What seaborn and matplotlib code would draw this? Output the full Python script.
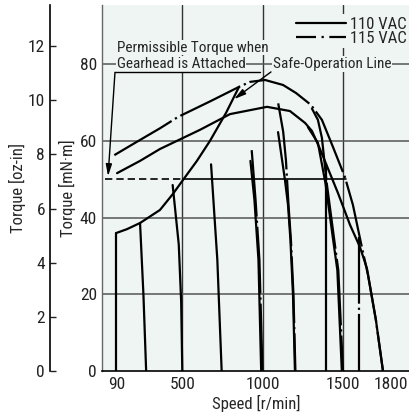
import matplotlib
matplotlib.use('Agg')
import matplotlib.pyplot as plt
from matplotlib import font_manager as fm
from matplotlib.lines import Line2D
import seaborn as sns

# speed [r/min] and torque [mN·m]
max115_speed = [77, 206, 361, 475, 672, 853, 921, 1015, 1127, 1208, 1301, 1369, 1438, 1512, 1562, 1612, 1656, 1705, 1749]
max115_torque = [56.3, 59.5, 63.3, 66.3, 70.3, 74.1, 75.4, 75.9, 74.6, 72.5, 69.4, 65.5, 58.4, 50.6, 43.3, 33.4, 25.0, 13.3, 0]
max110_speed = [94, 237, 361, 610, 797, 1027, 1170, 1264, 1307, 1357, 1469, 1544, 1606, 1649, 1705, 1749]
max110_torque = [51.6, 54.8, 57.9, 62.9, 67.0, 68.9, 67.8, 64.7, 62.6, 57.9, 46.4, 38.1, 32.3, 26.8, 13.3, 0]
safe_speed = [90, 156, 237, 361, 442, 504, 591, 672, 772, 853]
safe_torque = [36.0, 37.0, 38.6, 42.0, 46.2, 49.8, 54.8, 60.0, 67.3, 74.1]

# speed-control lines (solid = 110 VAC, dash-dot = 115 VAC)
c90_speed, c90_torque = [90, 90], [36.0, 0]
c275_speed, c275_torque = [237, 258, 275], [38.6, 20, 0]
c500_speed, c500_torque = [440, 478, 493, 500], [48.5, 33, 18, 0]
c745_speed, c745_torque = [679, 718, 745], [53.9, 29, 0]
c1000a_speed, c1000a_torque = [924, 949, 974, 991], [54.8, 44.6, 29.0, 0]
c1000b_speed, c1000b_torque = [932, 956, 980, 999], [57.6, 44.6, 29.0, 0]
c1200a_speed, c1200a_torque = [1096, 1139, 1158, 1173, 1189, 1201], [62.3, 49.8, 43.3, 34.2, 19.8, 0]
c1200b_speed, c1200b_torque = [1097, 1128, 1145, 1161, 1176, 1192, 1204], [69.8, 62.4, 55.0, 43.3, 34.2, 19.8, 0]
c1500a_speed, c1500a_torque = [1282, 1344, 1391, 1433, 1465, 1493], [63.6, 59.5, 49.0, 36.0, 26.3, 0]
c1500b_speed, c1500b_torque = [1305, 1344, 1369, 1399, 1440, 1471, 1500], [68.6, 65.5, 60.8, 49.0, 36.0, 26.3, 0]
v110_speed, v110_torque = [1394, 1394], [54.0, 0]
v115_speed, v115_torque = [1600, 1600], [35.0, 0]

gear_dash_speed = [20, 504]
gear_solid_speed = [504, 1520]
gear_torque = 50

grid_speed = [500, 1000, 1500]
grid_torque = [20, 40, 60, 80]
x_ticks = [90, 500, 1000, 1500, 1800]
y_ticks = [0, 20, 40, 60, 80]
oz_ticks = [0, 2, 4, 6, 8, 10, 12]
legend_labels = ['110 VAC', '115 VAC']

MNM_TO_OZIN = 0.141612
BG = '#eff5f3'
SOLID = '-'
DASHDOT = (0, (30, 1.8, 1, 1.8))

sns.set_style('white')

# the original uses a condensed grotesque; take a condensed face if one is installed
FONT, FS, NOTE_FS, STRETCH = 'Liberation Sans', 10.5, 10.5, 'normal'
preferred = ['Liberation Sans Narrow', 'Arial Narrow', 'Roboto Condensed', 'Noto Sans',
             'Open Sans', 'Roboto', 'Lato', 'DejaVu Sans']
condensed = {}
for f in fm.fontManager.ttflist:
    if f.stretch in ('condensed', 'semi-condensed') and f.style == 'normal' \
            and f.weight in (400, 'normal', 'regular', 'book'):
        condensed.setdefault(f.name, f.stretch)
for name in preferred:
    if name in condensed:
        FONT, FS, NOTE_FS, STRETCH = name, 12, 11, condensed[name]
        break
plt.rcParams['font.family'] = [FONT, 'DejaVu Sans']
plt.rcParams['font.stretch'] = STRETCH

fig = plt.figure(figsize=(4.09, 4.16), dpi=100)
ax = fig.add_axes([0.2493, 0.1082, 0.7507, 0.8798])
ax.set_facecolor(BG)
ax.set_xlim(0, 1911)
ax.set_ylim(0, 95.46)

for v in grid_speed:
    ax.axvline(v, color='#333333', lw=1.0, zorder=1)
for t in grid_torque:
    ax.axhline(t, color='#555555', lw=1.1, zorder=1)

curves = [
    (max115_speed, max115_torque, DASHDOT),
    (max110_speed, max110_torque, SOLID),
    (safe_speed, safe_torque, SOLID),
    (c90_speed, c90_torque, SOLID),
    (c275_speed, c275_torque, SOLID),
    (c500_speed, c500_torque, SOLID),
    (c745_speed, c745_torque, SOLID),
    (c1000a_speed, c1000a_torque, SOLID),
    (c1000b_speed, c1000b_torque, DASHDOT),
    (c1200a_speed, c1200a_torque, SOLID),
    (c1200b_speed, c1200b_torque, DASHDOT),
    (c1500a_speed, c1500a_torque, SOLID),
    (c1500b_speed, c1500b_torque, DASHDOT),
    (v110_speed, v110_torque, SOLID),
    (v115_speed, v115_torque, DASHDOT),
]
for spd, trq, ls in curves:
    sns.lineplot(x=spd, y=trq, ax=ax, sort=False, estimator=None, color='black',
                 lw=1.6, linestyle=ls, legend=False, zorder=3)

# permissible torque when gearhead is attached
sns.lineplot(x=gear_dash_speed, y=[gear_torque] * 2, ax=ax, color='black', lw=1.2,
             linestyle=(0, (4.4, 2.4)), legend=False, zorder=3)
sns.lineplot(x=gear_solid_speed, y=[gear_torque] * 2, ax=ax, color='black', lw=1.2,
             legend=False, zorder=3)

box = dict(boxstyle='square,pad=0.05', fc=BG, ec='none')
ax.text(92, 83.3, 'Permissible Torque when', ha='left', va='baseline', fontsize=NOTE_FS, bbox=box, zorder=4)
ax.text(92, 79.0, 'Gearhead is Attached', ha='left', va='baseline', fontsize=NOTE_FS, bbox=box, zorder=4)
ax.text(1063, 79.0, 'Safe-Operation Line', ha='left', va='baseline', fontsize=NOTE_FS, bbox=box, zorder=4)
ax.plot([81, 983], [77.9, 77.9], color='black', lw=1.0, zorder=5)
arrow = dict(arrowstyle='-|>,head_length=0.7,head_width=0.18', color='black', lw=1.0, shrinkA=0, shrinkB=0)
ax.annotate('', xy=(38, 50.8), xytext=(81, 77.9), arrowprops=arrow, zorder=5)
ax.annotate('', xy=(822, 70.9), xytext=(1052, 78.0), arrowprops=arrow, zorder=5)

handles = [Line2D([], [], color='black', lw=1.6),
           Line2D([], [], color='black', lw=1.6, linestyle=(0, (9, 2.5, 1, 2.5)))]
leg = ax.legend(handles, legend_labels, loc='upper right', bbox_to_anchor=(1.0, 0.975),
                frameon=True, fancybox=False, facecolor=BG, edgecolor='none', framealpha=1,
                fontsize=FS, handlelength=3.0, handletextpad=0.25, labelspacing=-0.05,
                borderpad=0.15, borderaxespad=0)
leg.set_zorder(6)

ax.set_xticks(x_ticks)
ax.set_yticks(y_ticks)
ax.tick_params(axis='both', length=0, labelsize=FS + 0.5, colors='#222222')
ax.tick_params(axis='y', pad=3.6)
ax.tick_params(axis='x', pad=4)
for s in ['top', 'right']:
    ax.spines[s].set_visible(False)
ax.spines['left'].set_color('#666666')
ax.spines['left'].set_linewidth(1.0)
ax.spines['bottom'].set_color('black')
ax.spines['bottom'].set_linewidth(1.2)
ax.set_ylabel('Torque [mN·m]', fontsize=FS)
ax.yaxis.set_label_coords(76 / 409, 0.548, transform=fig.transFigure)
ax.set_xlabel('Speed [r/min]', fontsize=FS)
ax.xaxis.set_label_coords(0.6267, 0.0505, transform=fig.transFigure)

# secondary torque scale in oz-in
oz = fig.add_axes([50 / 409, 0.1082, 0.02, 0.8798])
oz.set_ylim(0, 95.46 * MNM_TO_OZIN)
oz.set_yticks(oz_ticks)
oz.set_xticks([])
oz.patch.set_visible(False)
for s in ['top', 'right', 'bottom']:
    oz.spines[s].set_visible(False)
oz.spines['left'].set_color('black')
oz.spines['left'].set_linewidth(1.2)
oz.tick_params(axis='y', direction='in', left=True, length=4, width=1.0, pad=3.6,
               labelsize=FS + 0.5, colors='#222222')
oz.set_ylabel('Torque [oz-in]', fontsize=FS)
oz.yaxis.set_label_coords(26 / 409, 0.548, transform=fig.transFigure)

fig.savefig('out.png', dpi=100, facecolor='white')
